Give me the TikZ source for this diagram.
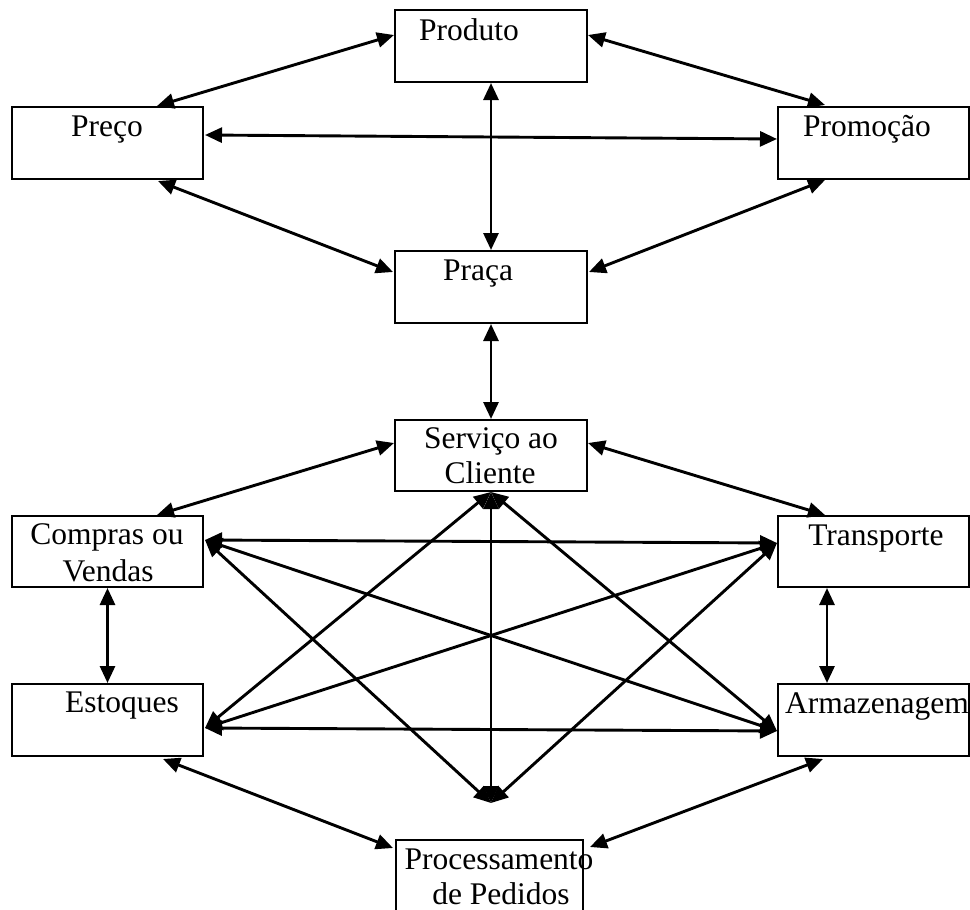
\documentclass[tikz,border=0pt]{standalone}
\usepackage{fontspec}
\setmainfont{Liberation Serif}
\usetikzlibrary{arrows.meta,calc}
\begin{document}
\begin{tikzpicture}[x=1pt,y=-1pt,
  box/.style={draw,line width=2.2pt,minimum width=191pt,minimum height=72pt,inner sep=0pt,outer sep=0pt},
  lbl/.style={anchor=base,inner sep=0pt,font=\fontsize{31.5}{36}\selectfont},
  link/.style={line width=2.9pt,{Triangle[length=17pt,width=15pt]}-{Triangle[length=17pt,width=15pt]}}
]
\useasboundingbox (0,0) rectangle (970,910);
\clip (0,0) rectangle (970,910);
% boxes
\node[box,minimum width=192pt] (produto) at (491,46) {};
\node[box] (preco) at (107.5,143) {};
\node[box] (promo) at (873.5,143) {};
\node[box,minimum width=192pt] (praca) at (491,287) {};
\node[box,minimum width=192pt,minimum height=71pt] (serv) at (491,455.5) {};
\node[box,minimum height=71pt] (compras) at (107.5,551.5) {};
\node[box] (estoq) at (107.5,720) {};
\node[box,minimum height=71pt] (transp) at (873.5,551.5) {};
\node[box] (armaz) at (873.5,720) {};
\node[box,minimum width=187pt,minimum height=100pt,line width=1.6pt] (proc) at (489.5,890) {};
% labels
\node[lbl] (tprod) at (469,40) {Produto};
\node[lbl] (tpreco) at (107,136) {Preço};
\node[lbl] (tpromo) at (867,136) {Promoção};
\node[lbl] (tpraca) at (478,280) {Praça};
\node[lbl] (tserv1) at (491,448) {Serviço ao};
\node[lbl] (tserv2) at (490,483) {Cliente};
\node[lbl] (tcomp1) at (107,544) {Compras ou};
\node[lbl] (tcomp2) at (108,581) {Vendas};
\node[lbl] (testoq) at (122,712) {Estoques};
\node[lbl] (ttransp) at (876,545) {Transporte};
\node[lbl] (tarmaz) at (877,713) {Armazenagem};
\node[lbl] (tproc1) at (499,869) {Processamento};
\node[lbl] (tproc2) at (501,904) {de Pedidos};
% apex coordinate below Servico
\coordinate (apex) at (491,803);
% upper group
\draw[link] ($(produto)+(-97,-11)$) -- ($(preco)+(49.5,-37)$);
\draw[link] ($(produto)+(97,-11)$) -- ($(promo)+(-48.5,-38)$);
\draw[link] ($(preco)+(97.5,-8)$) -- ($(promo)+(-96.5,-4)$);
\draw[link] ($(produto)+(0,37)$) -- ($(praca)+(0,-37)$);
\draw[link] ($(preco)+(50.5,38)$) -- ($(praca)+(-98,-15)$);
\draw[link] ($(promo)+(-48.5,37)$) -- ($(praca)+(98,-15)$);
\draw[link] ($(praca)+(0,37)$) -- ($(serv)+(0,-36.5)$);
% lower group
\draw[link] ($(serv)+(-97,-12.5)$) -- ($(compras)+(49.5,-36.5)$);
\draw[link] ($(serv)+(97,-12.5)$) -- ($(transp)+(-48.5,-36.5)$);
\draw[link] ($(compras)+(0,36.5)$) -- ($(estoq)+(0,-37)$);
\draw[link] ($(transp)+(-46.5,36.5)$) -- ($(armaz)+(-46.5,-37)$);
\draw[link] ($(estoq)+(55.5,39)$) -- ($(proc)+(-96.5,-42)$);
\draw[link] ($(armaz)+(-50.5,39)$) -- ($(proc)+(100.5,-43)$);
% crossing lines
\draw[link] ($(compras)+(97.5,-11.5)$) -- ($(transp)+(-96.5,-8.5)$);
\draw[link] ($(compras)+(97.5,-11.5)$) -- ($(armaz)+(-96.5,11)$);
\draw[link] ($(compras)+(97.5,-11.5)$) -- (apex);
\draw[link] ($(estoq)+(97.5,8)$) -- ($(armaz)+(-96.5,11)$);
\draw[link] ($(estoq)+(97.5,8)$) -- ($(transp)+(-96.5,-8.5)$);
\draw[link] ($(estoq)+(97.5,8)$) -- ($(serv)+(0,36.5)$);
\draw[link] ($(transp)+(-96.5,-8.5)$) -- (apex);
\draw[link] ($(serv)+(0,36.5)$) -- ($(armaz)+(-96.5,11)$);
\draw[link] ($(serv)+(0,36.5)$) -- (apex);
\end{tikzpicture}
\end{document}
